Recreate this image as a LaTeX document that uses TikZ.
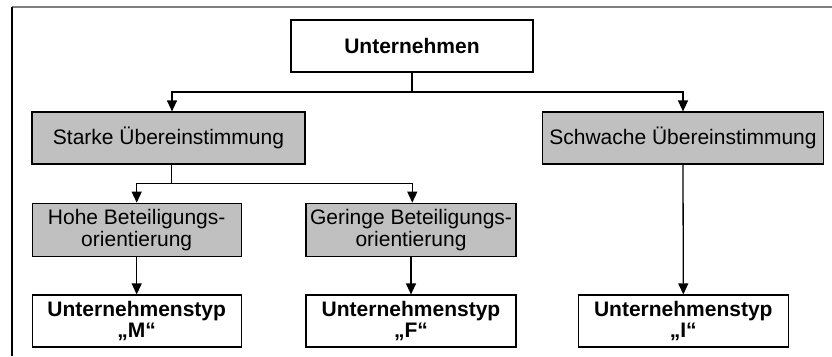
\documentclass[tikz,border=0pt]{standalone}
\usepackage{fontspec}
\setmainfont{Liberation Sans}
\usetikzlibrary{arrows.meta,calc}
\definecolor{boxgray}{HTML}{C0C0C0}
\definecolor{framegray}{HTML}{7F7F7F}
\tikzset{
  box/.style={draw=black, line width=1.2pt, inner sep=0pt, align=center,
    font=\fontsize{21}{21.8}\selectfont},
  shaded/.style={box, fill=boxgray},
  plain/.style={box, fill=white, font=\fontsize{21}{21.8}\selectfont\bfseries},
  link/.style={line width=1.3pt, draw=black},
  arr/.style={link, -{Triangle[width=10pt,length=11pt]}}
}
\begin{document}
\begin{tikzpicture}[x=1pt,y=-1pt]
  \useasboundingbox (0,0) rectangle (832,356);
  % outer frame (top and left edges)
  \draw[framegray, line width=2pt] (12,7) -- (832,7);
  \draw[black, line width=1.2pt] (12,7) -- (12,356);

  % boxes
  \node[plain, minimum width=242pt, minimum height=52pt] (u) at (412,46) {Unternehmen};
  \node[shaded, minimum width=273pt, minimum height=52pt] (sk) at (168.5,138) {Starke Übereinstimmung};
  \node[shaded, minimum width=281pt, minimum height=52pt] (sw) at (683,138) {Schwache Übereinstimmung};
  \node[shaded, minimum width=209pt, minimum height=53pt] (ho) at (136.7,229.7) {Hohe Beteiligungs-\\orientierung};
  \node[shaded, minimum width=210pt, minimum height=53pt] (ge) at (411,229.7) {Geringe Beteiligungs-\\orientierung};
  \node[plain, minimum width=209pt, minimum height=52pt] (tm) at (136.7,321) {Unternehmenstyp\\„M“};
  \node[plain, minimum width=210pt, minimum height=52pt] (tf) at (411,321) {Unternehmenstyp\\„F“};
  \node[plain, minimum width=210pt, minimum height=52pt] (ti) at (683.3,321) {Unternehmenstyp\\„I“};

  % first branching
  \coordinate (j1) at (412,92);
  \draw[link] (u.south) -- (j1);
  \draw[arr] (j1) -| ($(sk.north)+(3.5,0)$);
  \draw[arr] (j1) -| (sw.north);

  % second branching
  \coordinate (j2) at (171.7,183.3);
  \draw[link] ($(sk.south)+(3.2,0)$) -- (j2);
  \draw[arr] (j2) -| (ho.north);
  \draw[arr] (j2) -| ($(ge.north)+(1.3,0)$);

  % leaves
  \draw[arr] (ho.south) -- (tm.north);
  \draw[arr] (ge.south) -- (tf.north);
  \draw[arr] (sw.south) -- (ti.north);
\end{tikzpicture}
\end{document}
